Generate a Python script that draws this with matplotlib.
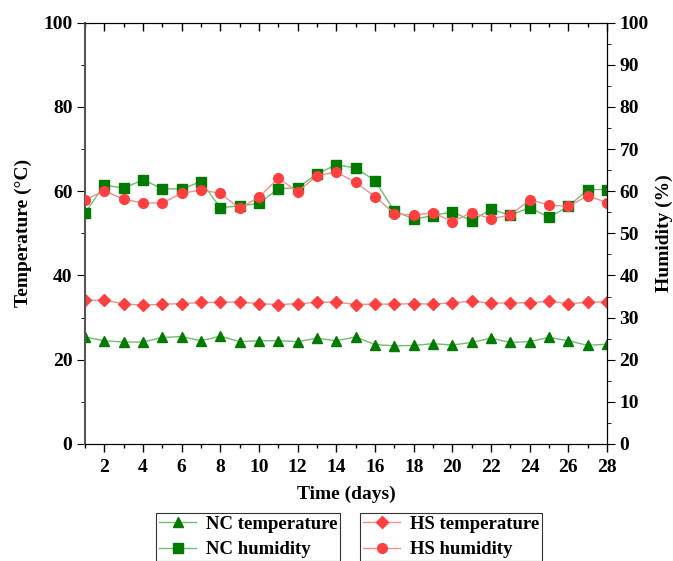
import matplotlib
matplotlib.use("Agg")
import matplotlib.pyplot as plt
from matplotlib.ticker import MultipleLocator
from matplotlib.lines import Line2D

days = list(range(1, 29))

# temperature (left axis)
nc_temp = [25.4, 24.5, 24.2, 24.2, 25.3, 25.5, 24.5, 25.6, 24.3, 24.5, 24.5, 24.3, 25.1, 24.5,
           25.4, 23.6, 23.3, 23.4, 23.8, 23.5, 24.1, 25.1, 24.1, 24.3, 25.3, 24.5, 23.4, 23.7]
hs_temp = [34.1, 34.1, 33.3, 32.9, 33.2, 33.3, 33.6, 33.6, 33.7, 33.3, 33.1, 33.3, 33.6, 33.7,
           33.1, 33.2, 33.2, 33.3, 33.2, 33.5, 33.9, 33.4, 33.5, 33.5, 33.9, 33.3, 33.6, 33.8]

# humidity (right axis)
nc_hum = [54.8, 61.5, 60.7, 62.7, 60.6, 60.5, 62.3, 56.1, 56.5, 57.1, 60.6, 60.8, 64.1, 66.3,
          65.5, 62.5, 55.3, 53.4, 54.2, 55.1, 53.0, 55.7, 54.3, 56.1, 53.8, 56.4, 60.4, 60.4]
hs_hum = [58.0, 60.1, 58.1, 57.2, 57.2, 59.5, 60.3, 59.5, 55.9, 58.6, 63.1, 59.9, 63.7, 64.5,
          62.1, 58.7, 54.7, 54.3, 54.9, 52.8, 54.9, 53.5, 54.3, 58.0, 56.7, 56.4, 58.9, 57.3]

green = "#007a00"
green_line = "#6fbf6f"
red = "#ff4040"
red_line = "#f09090"

plt.rcParams["font.family"] = "Liberation Serif"
plt.rcParams["font.weight"] = "bold"

fig = plt.figure(figsize=(6.73, 5.61), dpi=100)
ax = fig.add_axes([0.1263, 0.2086, 0.7757, 0.7509])
ax2 = ax.twinx()

ax.plot(days, nc_temp, color=green_line, lw=1, marker="^", ms=7.5, mfc=green, mec=green)
ax.plot(days, hs_temp, color=red_line, lw=1, marker="D", ms=6, mfc=red, mec=red)
ax2.plot(days, nc_hum, color=green_line, lw=1, marker="s", ms=6.5, mfc=green, mec=green)
ax2.plot(days, hs_hum, color=red_line, lw=1, marker="o", ms=7, mfc=red, mec=red)

ax.set_xlim(1, 28)
ax.set_ylim(0, 100)
ax2.set_ylim(0, 100)
ax.xaxis.set_major_locator(MultipleLocator(2))
ax.xaxis.set_minor_locator(MultipleLocator(1))
ax.yaxis.set_major_locator(MultipleLocator(20))
ax.yaxis.set_minor_locator(MultipleLocator(10))
ax2.yaxis.set_major_locator(MultipleLocator(10))
ax2.yaxis.set_minor_locator(MultipleLocator(5))

ax.tick_params(axis="x", which="both", direction="out", top=True, labelsize=14, pad=5)
ax.tick_params(axis="x", which="major", length=6, width=1)
ax.tick_params(axis="x", which="minor", length=3, width=1)
ax.tick_params(axis="y", which="major", direction="out", length=6, labelsize=14, pad=3)
ax.tick_params(axis="y", which="minor", direction="out", length=3)
ax2.tick_params(axis="y", which="major", direction="out", length=6, labelsize=14, pad=3)
ax2.tick_params(axis="y", which="minor", direction="out", length=3)
# top ticks point into the plot
for t in ax.xaxis.get_major_ticks() + ax.xaxis.get_minor_ticks():
    t.tick2line.set_marker(3)

for lab in ax.get_xticklabels() + ax.get_yticklabels() + ax2.get_yticklabels():
    lab.set_fontweight("bold")

ax.spines["left"].set_color("#555555")
ax.spines["left"].set_linewidth(1.5)
ax2.spines["left"].set_visible(False)

ax.set_xlabel("Time (days)", fontsize=14, fontweight="bold", labelpad=7)
ax.set_ylabel("Temperature (\u00b0C)", fontsize=14, fontweight="bold", labelpad=8)
ax2.set_ylabel("Humidity (%)", fontsize=14, fontweight="bold", labelpad=5)

h1 = [Line2D([], [], color=green_line, lw=1, marker="^", ms=7.5, mfc=green, mec=green),
      Line2D([], [], color=green_line, lw=1, marker="s", ms=6.5, mfc=green, mec=green)]
h2 = [Line2D([], [], color=red_line, lw=1, marker="D", ms=6, mfc=red, mec=red),
      Line2D([], [], color=red_line, lw=1, marker="o", ms=7, mfc=red, mec=red)]
leg_kw = dict(frameon=True, fancybox=False, edgecolor="black",
              borderaxespad=0, handlelength=2.0, labelspacing=0.45, borderpad=0.15,
              handletextpad=0.5, prop={"weight": "bold", "size": 13.5})
l1 = fig.legend(h1, ["NC temperature", "NC humidity"], loc="upper left",
                bbox_to_anchor=(156 / 673, 1 - 513 / 561), **leg_kw)
l2 = fig.legend(h2, ["HS temperature", "HS humidity"], loc="upper left",
                bbox_to_anchor=(360 / 673, 1 - 513 / 561), **leg_kw)
for l in (l1, l2):
    l.get_frame().set_linewidth(0.8)

fig.savefig("out.png", dpi=100)
